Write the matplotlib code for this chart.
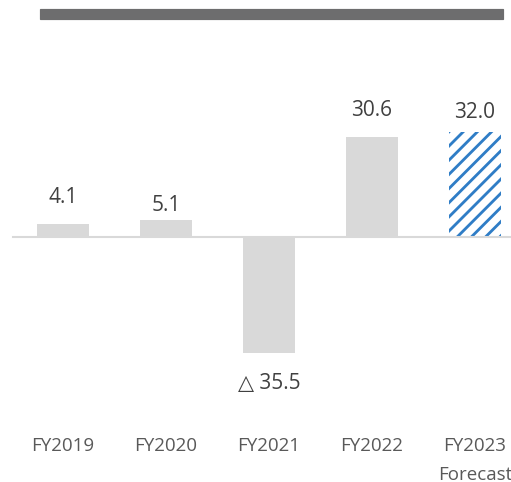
import matplotlib
matplotlib.use('Agg')
import matplotlib.pyplot as plt
from matplotlib.patches import Rectangle
from matplotlib.transforms import blended_transform_factory

# hatch spacing is tied to dpi, so render at 85 dpi and scale point sizes
DPI = 85
k = 100 / DPI

plt.rcParams['font.family'] = ['Open Sans', 'DejaVu Sans']
plt.rcParams['hatch.linewidth'] = 2.4

categories = ['FY2019', 'FY2020', 'FY2021', 'FY2022', 'FY2023\nForecast']
values = [4.1, 5.1, -35.5, 30.6, 32.0]
labels = ['4.1', '5.1', '△ 35.5', '30.6', '32.0']
forecast = [False, False, False, False, True]
# per-label vertical offset (points) as in the original slide
label_pad = [19, 11, 22, 19, 14]

gray = '#d9d9d9'
blue = '#2f7dc6'

fig = plt.figure(figsize=(511 / DPI, 482 / DPI), dpi=DPI)
ax = fig.add_axes([0, 0, 1, 1])
ax.set_xlim(-0.612, 4.35)
ax.set_ylim(-74.9, 72.5)
ax.axis('off')

x = list(range(len(values)))
for i, v in enumerate(values):
    if forecast[i]:
        ax.bar(x[i], v, width=0.5, color='white', edgecolor=blue,
               hatch='//', linewidth=0, zorder=2)
    else:
        ax.bar(x[i], v, width=0.5, color=gray, linewidth=0, zorder=2)
    sign = 1 if v >= 0 else -1
    ax.annotate(labels[i], (x[i], v), xytext=(0, sign * label_pad[i] * k),
                textcoords='offset points', ha='center', va='center',
                fontsize=15 * k, color='#404040')

ax.axhline(0, xmin=13 / 511, xmax=1, color=gray, linewidth=1.5 * k, zorder=3)

tr = blended_transform_factory(ax.transData, ax.transAxes)
for i, c in enumerate(categories):
    ax.text(x[i], 1 - 437 / 482, c, transform=tr, ha='center', va='top',
            fontsize=13.5 * k, color='#595959', linespacing=1.75)

# header strip
fig.patches.append(Rectangle((40 / 511, 1 - 19 / 482), 463 / 511, 10 / 482,
                             transform=fig.transFigure, color='#6d6d6e'))

fig.savefig('out.png', dpi=DPI)
